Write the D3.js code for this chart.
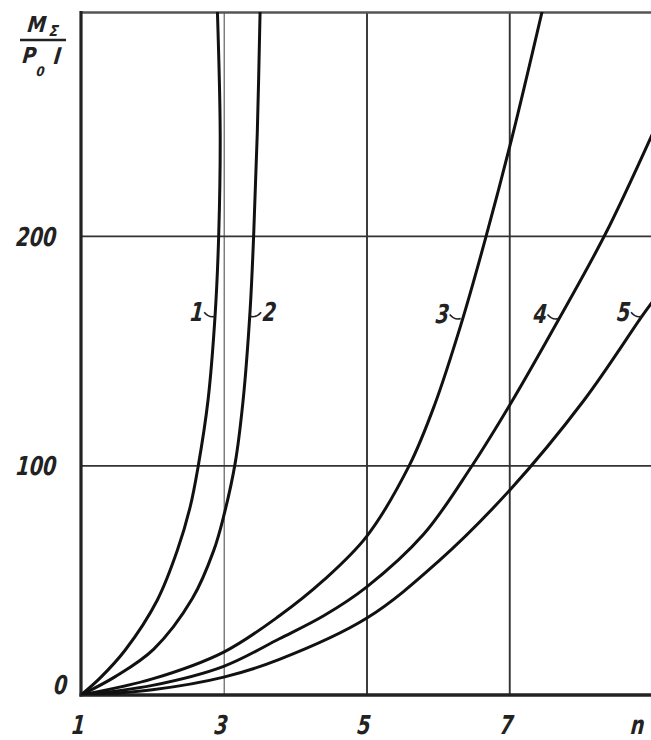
<!DOCTYPE html>
<html>
<head>
    <meta charset="utf-8">
    <title>M sum / P0 l against n</title>
    <script src="https://d3js.org/d3.v7.min.js"></script>
    <style>
        body { margin: 0; background: #fff; }
        svg { display: block; }
    </style>
</head>
<body>
<div id="stage"></div>
<script>
    // curves, [n, M/(P0 l)] pairs
    var curve1 = [[1,0],[1.28,7.8],[1.62,19.6],[2.07,41.4],[2.35,63],[2.53,82],[2.64,99.3],[2.78,128.5],[2.88,166],[2.93,201],[2.95,245],[2.91,299]];
    var curve2 = [[1,0],[1.48,8],[2.02,20],[2.56,42],[2.86,63],[3.0,78],[3.16,101],[3.27,128],[3.37,168],[3.42,201],[3.47,245],[3.51,299]];
    var curve3 = [[1,0],[2,7],[3,18.7],[3.78,34.5],[4.4,50],[5,69],[5.6,100],[5.95,126],[6.32,161],[6.66,198],[7.04,243],[7.47,299]];
    var curve4 = [[1,0],[2,4.2],[3,12.5],[3.78,24.5],[4.4,34.5],[5,47],[5.8,70],[6.46,99],[7.02,127],[7.70,164],[8.35,201],[9,244]];
    var curve5 = [[1,0],[2,2.3],[3,7.8],[3.78,15.5],[5,33.4],[6,58],[7,89],[8.05,128.5],[8.86,165],[9,171]];
    var curves = [curve1, curve2, curve3, curve4, curve5];

    var curveNames = ["1", "2", "3", "4", "5"];
    // where each name's leader touches its curve
    var labelN = [2.88, 3.37, 6.32, 7.69, 8.86];
    var labelM = [165, 165, 164, 164, 165];

    var xTicks = [1, 3, 5, 7];
    var yTicks = [0, 100, 200];
    var xGrid = [3, 5, 7];
    var yGrid = [100, 200];
    var nMax = 9;
    var mMax = 297.5;

    var width = 651, height = 740;

    var svg = d3.select("#stage")
        .append("svg")
            .attr("width", width)
            .attr("height", height);

    var x = d3.scaleLinear().domain([1, nMax]).range([81, 652]);
    var y = d3.scaleLinear().domain([0, mMax]).range([695, 12]);

    // italic, narrow lettering like the drawing stencil
    function label(px, py, str, size, anchor, sx) {
        return svg.append("text")
            .attr("transform", "translate(" + px + "," + py + ") scale(" + (sx || 0.74) + ",1) skewX(-7)")
            .attr("text-anchor", anchor)
            .style("font", "italic bold " + size + "px 'DejaVu Sans'")
            .attr("fill", "#222")
            .text(str);
    }

    // vertical grid
    svg.append("g")
        .attr("transform", "translate(0," + y(0) + ")")
        .call(d3.axisBottom(x).tickValues(xGrid).tickSize(-(y(0) - y(mMax))).tickFormat(""))
        .call(function(g) { g.select(".domain").remove(); })
        .selectAll("line")
            .attr("stroke", function(d) { return d === 3 ? "#777" : "#333"; })
            .attr("stroke-width", function(d) { return d === 3 ? 1.4 : 1.9; });

    // horizontal grid + top border
    svg.append("g")
        .attr("transform", "translate(" + x(1) + ",0)")
        .call(d3.axisLeft(y).tickValues(yGrid.concat([mMax])).tickSize(-(x(nMax) - x(1))).tickFormat(""))
        .call(function(g) { g.select(".domain").remove(); })
        .selectAll("line")
            .attr("stroke", function(d) { return d === mMax ? "#555" : "#333"; })
            .attr("stroke-width", function(d) { return d === mMax ? 2.4 : 1.9; });

    // main axes
    svg.append("line")
        .attr("x1", x(1)).attr("x2", x(1))
        .attr("y1", y(mMax) - 1).attr("y2", y(0) + 1.5)
        .attr("stroke", "#222").attr("stroke-width", 3.2);
    svg.append("line")
        .attr("x1", x(1) - 1.5).attr("x2", width)
        .attr("y1", y(0)).attr("y2", y(0))
        .attr("stroke", "#222").attr("stroke-width", 3.4);

    // clip the curves to the frame
    svg.append("clipPath").attr("id", "plot")
        .append("rect")
            .attr("x", x(1)).attr("y", y(mMax))
            .attr("width", width - x(1)).attr("height", y(0) - y(mMax));

    var line = d3.line()
        .x(function(d) { return x(d[0]); })
        .y(function(d) { return y(d[1]); })
        .curve(d3.curveCatmullRom.alpha(0.5));

    svg.append("g")
        .attr("clip-path", "url(#plot)")
        .selectAll("path")
        .data(curves)
        .enter()
        .append("path")
            .attr("d", line)
            .attr("fill", "none")
            .attr("stroke", "#111")
            .attr("stroke-width", 3)
            .attr("stroke-linecap", "round");

    // curve names with little hooked leaders
    curveNames.forEach(function(name, i) {
        var cx = x(labelN[i]), cy = y(labelM[i]);
        var side = (name === "2") ? 1 : -1;
        svg.append("path")
            .attr("d", "M" + (cx + side * 11) + "," + (cy - 4) +
                       " Q" + (cx + side * 6) + "," + (cy + 2) + " " + cx + "," + cy)
            .attr("fill", "none")
            .attr("stroke", "#222")
            .attr("stroke-width", 1.6);
        label(cx + side * 12, cy + 5, name, 26, side > 0 ? "start" : "end");
    });

    // tick labels
    xTicks.forEach(function(v) {
        label(x(v) - 3, 734, String(v), 26, "middle");
    });
    yTicks.forEach(function(v) {
        if (v === 0) label(67, y(0) - 1, "0", 26, "end");
        else label(56, y(v) + 10, String(v), 26, "end");
    });
    label(637, 734, "n", 26, "middle");

    // y axis title: M_Σ over P_0 l
    label(27, 32, "M", 22, "start", 0.85);
    label(49, 36, "Σ", 15, "start", 0.9);
    svg.append("line")
        .attr("x1", 20).attr("x2", 66)
        .attr("y1", 40).attr("y2", 40)
        .attr("stroke", "#222").attr("stroke-width", 2.6);
    label(22, 63, "P", 22, "start", 0.85);
    label(36, 76, "0", 13, "start", 0.9);
    label(53, 64, "l", 22, "start", 0.9);
</script>
</body>
</html>
